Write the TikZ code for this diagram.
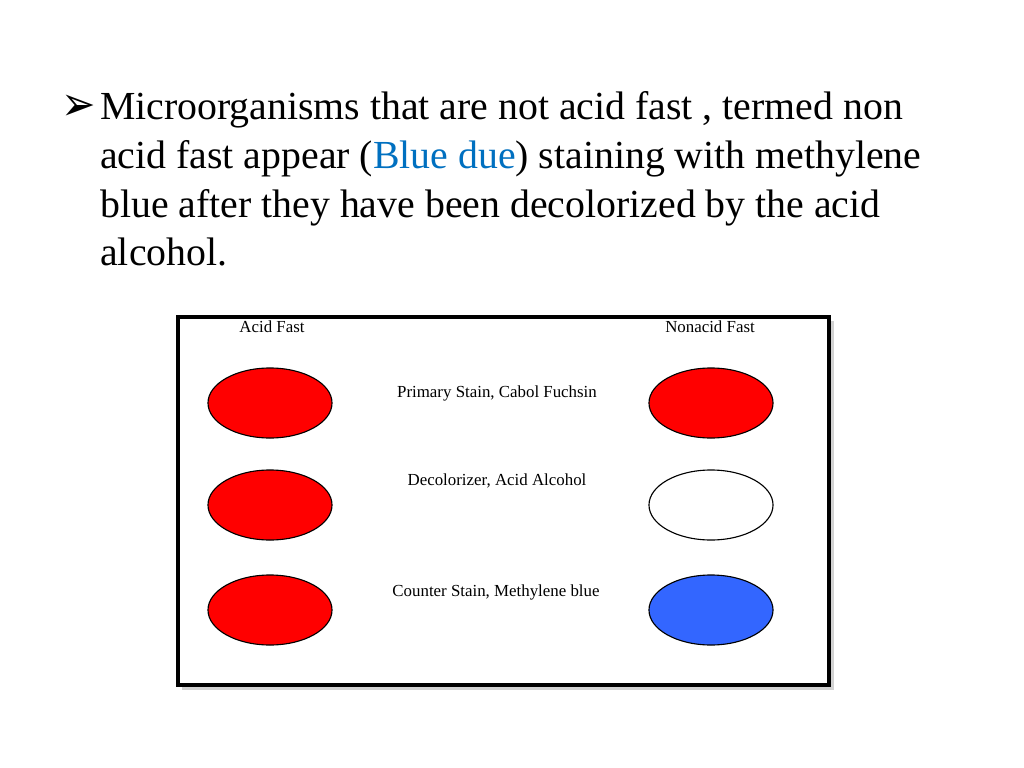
\documentclass[tikz,border=0pt]{standalone}
\usepackage{fontspec}
\setmainfont{Liberation Serif}
\newfontfamily\symfont{DejaVu Sans}
\usetikzlibrary{shapes.geometric}
\usetikzlibrary{positioning}
\definecolor{stainred}{RGB}{255,0,0}
\definecolor{stainblue}{RGB}{51,102,255}
\definecolor{duetext}{RGB}{0,112,192}

\begin{document}
\begin{tikzpicture}[x=0.025cm,y=-0.025cm,
    cell node/.style={ellipse,draw,line width=0.8pt,minimum width=3.1cm,minimum height=1.75cm,inner sep=0pt},
    step label/.style={font=\fontsize{12}{14}\selectfont,inner sep=0pt},
    line node/.style={anchor=base west,inner sep=0pt,font=\fontsize{28.3}{34}\selectfont}]

  \useasboundingbox[fill=white] (0,0) rectangle (1024,768);

  % bullet and text
  \node[anchor=base west,inner sep=0pt,font=\fontsize{34}{40}\selectfont] (bullet) at (61,121) {\scalebox{0.86}[1]{\symfont ➢}};
  \node[line node] (line1) at (100,120) {Microorganisms that are not acid fast , termed non};
  \node[line node] (line2) at (100,169) {acid fast appear (\textcolor{duetext}{Blue due}) staining with methylene};
  \node[line node] (line3) at (100,217) {blue after they have been decolorized by the acid};
  \node[line node] (line4) at (100,265) {alcohol.};

  % frame with shadow
  \fill[gray!35] (182,321) rectangle (834,690);
  \fill[gray!65] (180,319) rectangle (831,687);
  \draw[line width=3pt,fill=white] (178,317) rectangle (829,685);

  \node[step label] (acid) at (272,327) {Acid Fast};
  \node[step label] (nonacid) at (710,327) {Nonacid Fast};

  \node[cell node,fill=stainred] (a1) at (270,403) {};
  \node[cell node,fill=stainred] (a2) at (270,505) {};
  \node[cell node,fill=stainred] (a3) at (270,610) {};
  \node[cell node,fill=stainred] (n1) at (711,403) {};
  \node[cell node,fill=white] (n2) at (711,505) {};
  \node[cell node,fill=stainblue] (n3) at (711,610) {};

  \node[step label] (primary) at (497,393) {Primary Stain, Cabol Fuchsin};
  \node[step label] (decol) at (497,481) {Decolorizer, Acid Alcohol};
  \node[step label] (counter) at (496,592) {Counter Stain, Methylene blue};
\end{tikzpicture}
\end{document}
